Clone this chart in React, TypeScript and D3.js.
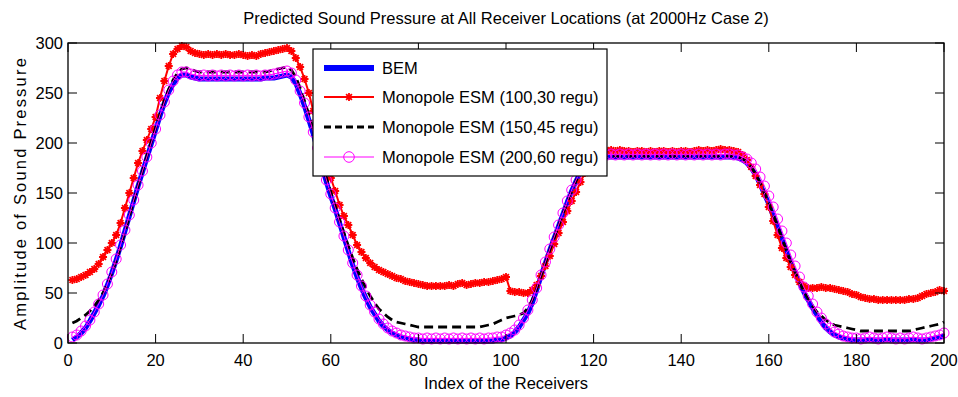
import React, { useEffect, useRef } from 'react';
import * as d3 from 'd3';

// receiver index 1..200
const receivers = d3.range(1, 201);

const bem = [
  3, 6, 10, 15, 22, 30, 38, 47, 58, 70,
  83, 97, 112, 127, 142, 157, 171, 185, 199, 213,
  227, 240, 251, 259, 265, 268, 268, 266, 265, 264,
  264, 264, 264, 264, 264, 264, 264, 264, 264, 264,
  264, 264, 264, 264, 265, 265, 265, 266, 267, 268,
  266, 260, 249, 237, 223, 209, 193, 177, 161, 147,
  134, 120, 106, 92, 78, 66, 55, 45, 36, 29,
  22, 17, 13, 10, 8, 6, 5, 4, 3, 3,
  2, 2, 2, 2, 2, 2, 2, 2, 2, 2,
  2, 2, 2, 2, 2, 2, 2, 3, 3, 5,
  7, 11, 16, 23, 30, 40, 53, 67, 80, 93,
  105, 117, 129, 141, 152, 162, 171, 178, 183, 185,
  186, 186, 186, 186, 186, 186, 186, 186, 186, 186,
  186, 186, 186, 186, 186, 186, 186, 186, 186, 186,
  186, 186, 186, 186, 186, 186, 186, 186, 186, 186,
  186, 186, 185, 183, 180, 175, 168, 159, 149, 139,
  127, 116, 104, 92, 80, 70, 60, 51, 43, 35,
  28, 21, 15, 11, 8, 6, 5, 4, 3, 3,
  3, 3, 3, 3, 3, 3, 3, 3, 3, 3,
  3, 3, 3, 3, 3, 3, 4, 5, 6, 7,
];

const esm100 = [
  63, 64, 66, 68, 71, 74, 79, 86, 93, 100,
  108, 120, 135, 150, 165, 180, 192, 203, 214, 226,
  245, 262, 277, 289, 294, 297, 296, 292, 290, 289,
  288, 289, 288, 289, 288, 289, 288, 288, 289, 288,
  287, 288, 287, 289, 290, 291, 292, 293, 294, 295,
  292, 285, 276, 264, 250, 232, 214, 196, 180, 165,
  152, 138, 127, 118, 108, 98, 91, 85, 80, 76,
  73, 71, 69, 67, 65, 64, 62, 61, 60, 59,
  58, 57, 57, 57, 57, 57, 58, 57, 59, 60,
  58, 59, 60, 60, 61, 61, 62, 63, 64, 66,
  52, 51, 51, 50, 50, 53, 58, 67, 77, 87,
  99, 110, 121, 132, 142, 151, 161, 170, 178, 185,
  190, 193, 192, 193, 192, 193, 192, 192, 191, 192,
  192, 191, 192, 191, 192, 192, 191, 192, 191, 192,
  192, 191, 192, 193, 192, 193, 192, 193, 194, 193,
  193, 192, 191, 188, 183, 176, 167, 158, 149, 136,
  122, 108, 95, 85, 76, 68, 61, 57, 55, 55,
  55, 56, 55, 55, 54, 53, 52, 51, 49, 48,
  46, 45, 44, 44, 43, 43, 43, 43, 43, 43,
  43, 44, 44, 45, 47, 49, 50, 51, 53, 52,
];

const esm150 = [
  20, 22, 25, 28, 32, 37, 43, 50, 59, 70,
  82, 96, 111, 126, 142, 157, 172, 187, 201, 215,
  229, 242, 254, 263, 270, 274, 275, 274, 272, 271,
  271, 271, 271, 271, 271, 271, 271, 271, 271, 271,
  271, 271, 271, 271, 271, 272, 273, 274, 275, 276,
  273, 266, 255, 242, 228, 213, 197, 181, 165, 151,
  137, 123, 110, 97, 85, 74, 64, 55, 47, 40,
  34, 30, 26, 23, 21, 20, 19, 18, 17, 16,
  16, 16, 16, 16, 16, 16, 16, 16, 16, 16,
  16, 16, 16, 16, 17, 18, 19, 21, 23, 25,
  26, 27, 28, 30, 35, 43, 54, 67, 80, 93,
  105, 117, 129, 141, 152, 162, 171, 178, 183, 186,
  187, 187, 187, 187, 187, 187, 187, 187, 187, 187,
  187, 187, 187, 187, 187, 187, 187, 187, 187, 187,
  187, 187, 187, 187, 187, 187, 187, 187, 187, 187,
  187, 187, 186, 184, 181, 176, 169, 160, 150, 140,
  128, 117, 105, 93, 81, 71, 61, 52, 44, 37,
  31, 27, 23, 20, 18, 17, 16, 15, 14, 13,
  12, 12, 12, 12, 12, 12, 12, 12, 12, 12,
  12, 12, 13, 14, 15, 16, 17, 18, 19, 21,
];

const esm200 = [
  6, 8, 12, 17, 23, 31, 39, 48, 59, 71,
  84, 98, 113, 128, 143, 158, 172, 186, 200, 214,
  228, 241, 253, 262, 268, 271, 271, 269, 268, 267,
  268, 267, 268, 267, 268, 267, 268, 267, 268, 267,
  268, 267, 268, 267, 268, 268, 269, 270, 271, 272,
  270, 263, 252, 240, 226, 211, 195, 179, 163, 149,
  135, 121, 107, 93, 80, 68, 57, 47, 38, 31,
  24, 19, 15, 12, 10, 8, 7, 6, 5, 5,
  4, 5, 4, 5, 4, 5, 4, 5, 4, 5,
  4, 5, 4, 5, 4, 5, 5, 6, 6, 8,
  10, 13, 18, 25, 33, 43, 55, 68, 81, 94,
  106, 118, 130, 142, 153, 163, 172, 179, 184, 187,
  188, 189, 188, 189, 188, 189, 188, 189, 188, 189,
  188, 189, 188, 189, 188, 189, 188, 189, 188, 189,
  188, 189, 188, 189, 188, 189, 188, 189, 188, 189,
  189, 188, 188, 186, 184, 180, 174, 166, 157, 147,
  136, 124, 112, 100, 88, 77, 66, 56, 47, 39,
  31, 25, 19, 15, 11, 9, 7, 6, 5, 5,
  4, 5, 6, 5, 4, 5, 6, 5, 4, 5,
  4, 5, 6, 5, 4, 5, 6, 7, 8, 10,
];

const seriesNames = [
  'BEM',
  'Monopole ESM (100,30 regu)',
  'Monopole ESM (150,45 regu)',
  'Monopole ESM (200,60 regu)',
];
const xTicks = [0, 20, 40, 60, 80, 100, 120, 140, 160, 180, 200];
const yTicks = [0, 50, 100, 150, 200, 250, 300];

const FONT = '"Liberation Sans", Arial, sans-serif';
// matlab style '*' marker
const starPath = 'M-4,0H4M0,-4V4M-2.9,-2.9L2.9,2.9M-2.9,2.9L2.9,-2.9';

const App = () => {
  const svgRef = useRef<SVGSVGElement>(null);

  useEffect(() => {
    const svg = d3.select(svgRef.current);
    svg.selectAll('*').remove();

    const width = 958;
    const height = 397;
    const left = 68, right = 944, top = 43, bottom = 343;

    svg.append('rect').attr('width', width).attr('height', height).attr('fill', '#fff');

    const x = d3.scaleLinear().domain([0, 200]).range([left, right]);
    const y = d3.scaleLinear().domain([0, 300]).range([bottom, top]);

    const line = d3.line<number>()
      .x((d, i) => x(receivers[i]))
      .y(d => y(d));

    const g = svg.append('g');

    // BEM
    g.append('path').attr('d', line(bem)).attr('fill', 'none')
      .attr('stroke', '#0000ff').attr('stroke-width', 5).attr('stroke-linejoin', 'round');

    // ESM 100,30 with asterisks
    g.append('path').attr('d', line(esm100)).attr('fill', 'none')
      .attr('stroke', '#ff0000').attr('stroke-width', 2);
    g.selectAll('.star').data(esm100).enter().append('path')
      .attr('d', starPath)
      .attr('transform', (d, i) => `translate(${x(receivers[i])},${y(d)})`)
      .attr('stroke', '#ff0000').attr('stroke-width', 1.8).attr('fill', 'none');

    // ESM 150,45 dashed
    g.append('path').attr('d', line(esm150)).attr('fill', 'none')
      .attr('stroke', '#000').attr('stroke-width', 2.8).attr('stroke-dasharray', '9,5');

    // ESM 200,60 with circles
    g.append('path').attr('d', line(esm200)).attr('fill', 'none')
      .attr('stroke', '#ff00ff').attr('stroke-width', 1);
    g.selectAll('.circ').data(esm200).enter().append('circle')
      .attr('cx', (d, i) => x(receivers[i]))
      .attr('cy', d => y(d))
      .attr('r', 5)
      .attr('fill', 'none').attr('stroke', '#ff00ff').attr('stroke-width', 1);

    // axes box and ticks
    const tickLen = 9;
    const ax = svg.append('g').attr('stroke', '#000').attr('stroke-width', 1);
    ax.append('rect').attr('x', left).attr('y', top).attr('width', right - left).attr('height', bottom - top)
      .attr('fill', 'none').attr('stroke-width', 1.3);
    xTicks.forEach(t => {
      ax.append('line').attr('x1', x(t)).attr('x2', x(t)).attr('y1', bottom).attr('y2', bottom - tickLen);
      ax.append('line').attr('x1', x(t)).attr('x2', x(t)).attr('y1', top).attr('y2', top + tickLen);
    });
    yTicks.forEach(t => {
      ax.append('line').attr('x1', left).attr('x2', left + tickLen).attr('y1', y(t)).attr('y2', y(t));
      ax.append('line').attr('x1', right).attr('x2', right - tickLen).attr('y1', y(t)).attr('y2', y(t));
    });

    const txt = svg.append('g').attr('font-family', FONT).attr('fill', '#000');
    txt.selectAll('.xt').data(xTicks).enter().append('text')
      .attr('x', d => x(d)).attr('y', bottom + 23)
      .attr('text-anchor', 'middle').attr('font-size', 16.5).text(d => d);
    txt.selectAll('.yt').data(yTicks).enter().append('text')
      .attr('x', left - 5).attr('y', d => y(d) + 6)
      .attr('text-anchor', 'end').attr('font-size', 16.5).text(d => d);

    txt.append('text').attr('x', (left + right) / 2).attr('y', 24)
      .attr('text-anchor', 'middle').attr('font-size', 16.5).text('Predicted Sound Pressure at All Receiver Locations (at 2000Hz Case 2)');
    txt.append('text').attr('x', (left + right) / 2).attr('y', 389)
      .attr('text-anchor', 'middle').attr('font-size', 16.5).text('Index of the Receivers');
    txt.append('text')
      .attr('transform', `translate(26,${(top + bottom) / 2}) rotate(-90)`)
      .attr('text-anchor', 'middle').attr('font-size', 16.5).attr('letter-spacing', 2.2)
      .text('Amplitude of Sound Pressure');

    // legend
    const lg = svg.append('g').attr('transform', 'translate(313,49)');
    lg.append('rect').attr('width', 294).attr('height', 127)
      .attr('fill', '#fff').attr('stroke', '#000').attr('stroke-width', 1.2);
    const rowY = [19, 48, 78, 108];
    const x1 = 11, x2 = 61;
    lg.append('line').attr('x1', x1).attr('x2', x2).attr('y1', rowY[0]).attr('y2', rowY[0])
      .attr('stroke', '#0000ff').attr('stroke-width', 6);
    lg.append('line').attr('x1', x1).attr('x2', x2).attr('y1', rowY[1]).attr('y2', rowY[1])
      .attr('stroke', '#ff0000').attr('stroke-width', 2);
    lg.append('path').attr('d', starPath).attr('transform', `translate(${(x1 + x2) / 2},${rowY[1]})`)
      .attr('stroke', '#ff0000').attr('stroke-width', 1.8);
    lg.append('line').attr('x1', x1).attr('x2', x2).attr('y1', rowY[2]).attr('y2', rowY[2])
      .attr('stroke', '#000').attr('stroke-width', 2.8).attr('stroke-dasharray', '7,4');
    lg.append('line').attr('x1', x1).attr('x2', x2).attr('y1', rowY[3]).attr('y2', rowY[3])
      .attr('stroke', '#ff00ff').attr('stroke-width', 1);
    lg.append('circle').attr('cx', (x1 + x2) / 2).attr('cy', rowY[3]).attr('r', 5.3)
      .attr('fill', 'none').attr('stroke', '#ff00ff').attr('stroke-width', 1);
    lg.selectAll('.lt').data(seriesNames).enter().append('text')
      .attr('x', 69).attr('y', (d, i) => rowY[i] + 6)
      .attr('font-family', FONT).attr('font-size', 16.5).text(d => d);
  }, []);

  return (
    <svg
      ref={svgRef}
      width={958}
      height={397}
      style={{ position: 'absolute', left: 0, top: 0, display: 'block' }}
    />
  );
};

export default App;
